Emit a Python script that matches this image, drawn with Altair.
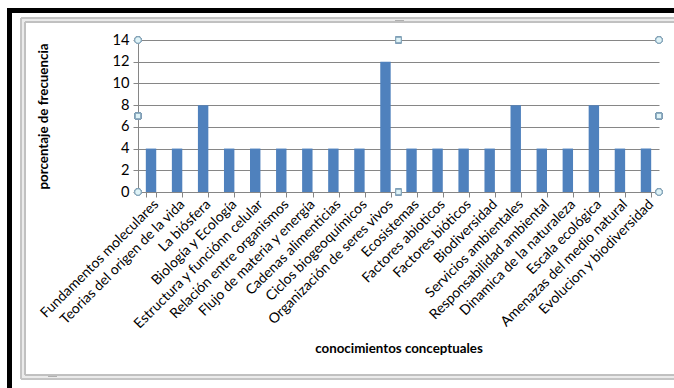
import altair as alt
import pandas as pd

# Conceptual knowledge topics and their frequency percentage
temas = [
    "Fundamentos moleculares",
    "Teorias del origen de la vida",
    "La biósfera",
    "Biología y Ecología",
    "Estructura y funciónn celular",
    "Relación entre organismos",
    "Flujo de materia y energía",
    "Cadenas alimenticias",
    "Ciclos biogeoquímicos",
    "Organización de seres vivos",
    "Ecosistemas",
    "Factores abioticos",
    "Factores bióticos",
    "Biodiversidad",
    "Servicios ambientales",
    "Responsabilidad ambiental",
    "Dinamica de la naturaleza",
    "Escala ecológica",
    "Amenazas del medio natural",
    "Evolucion y biodiversidad",
]
porcentajes = [4, 4, 8, 4, 4, 4, 4, 4, 4, 12, 4, 4, 4, 4, 8, 4, 4, 8, 4, 4]
y_ticks = [0, 2, 4, 6, 8, 10, 12, 14]

df = pd.DataFrame({"tema": temas, "pct": porcentajes})

FONT = "Lato"
W, H = 521, 152
L, T = 138, 40

# Window frame: black border on the top/left and a light grey chart-object frame
def box(x1, x2, y1, y2, **kw):
    return alt.Chart(df).mark_rect(**kw).encode(
        x=alt.value(x1 - L), x2=alt.value(x2 - L),
        y=alt.value(y1 - T), y2=alt.value(y2 - T),
    )

frame = alt.layer(
    box(7, 674, 8, 13, color="black"),
    box(7, 12, 8, 388, color="black"),
    box(23, 690, 20, 377, fill=None, filled=False, stroke="#ebebeb", strokeWidth=4),
    box(21, 690, 18, 379, fill=None, filled=False, stroke="#c4c4c4", strokeWidth=1),
    box(25, 690, 22, 375, fill=None, filled=False, stroke="#c0c0c0", strokeWidth=1),
    # small grip marks on the frame
    box(395, 404, 20, 21, color="#b0b0b0"),
    box(48, 57, 376, 377, color="#b0b0b0"),
)

bars = alt.Chart(df).mark_bar(color="#4F81BD").encode(
    x=alt.X(
        "tema:N",
        sort=temas,
        scale=alt.Scale(paddingInner=0.6, paddingOuter=0.3),
        axis=alt.Axis(
            title="conocimientos conceptuales",
            titleFont=FONT, titleFontSize=13.33, titleFontWeight="bold",
            titleColor="black", titleY=156, titleBaseline="middle",
            labelAngle=-45, labelAlign="right", labelBaseline="top",
            labelFont=FONT, labelFontSize=14, labelColor="black",
            labelPadding=0, labelOverlap=False, labelLimit=0,
            tickBand="extent", tickSize=5, tickColor="#868686",
            domainColor="#868686", grid=False,
        ),
    ),
    y=alt.Y(
        "pct:Q",
        scale=alt.Scale(domain=[0, 14], nice=False),
        axis=alt.Axis(
            values=y_ticks,
            title="porcentaje de frecuencia",
            titleFont=FONT, titleFontSize=13.33, titleFontWeight="bold",
            titleColor="black", titleX=-95, titleY=76,
            titleAngle=-90, titleBaseline="middle", titleAlign="center",
            labelFont=FONT, labelFontSize=14.67, labelColor="black",
            labelPadding=4, tickSize=5, tickColor="#868686",
            domainColor="#868686", gridColor="#868686", gridWidth=1,
        ),
    ),
)

# Selection handles of the plot area
def handle(px, py, shape):
    return alt.Chart(df).mark_point(
        shape=shape, size=45 if shape == "circle" else 30,
        filled=True, fill="#dff3f7", stroke="#7f9fb5", strokeWidth=1, opacity=1,
    ).encode(x=alt.value(px), y=alt.value(py))

handles = alt.layer(
    handle(0, 0, "circle"), handle(W, 0, "circle"),
    handle(0, H, "circle"), handle(W, H, "circle"),
    handle(W / 2, 0, "square"), handle(W / 2, H, "square"),
    handle(0, H / 2, "square"), handle(W, H / 2, "square"),
)

chart = alt.layer(frame, bars, handles).properties(
    width=W, height=H,
    autosize=alt.AutoSizeParams(type="none"),
    padding={"left": L, "top": T, "right": 674 - L - W, "bottom": 388 - T - H},
    background="white",
).configure_view(stroke=None)

chart.save("out.html", embed_options={"renderer": "svg", "actions": False})
